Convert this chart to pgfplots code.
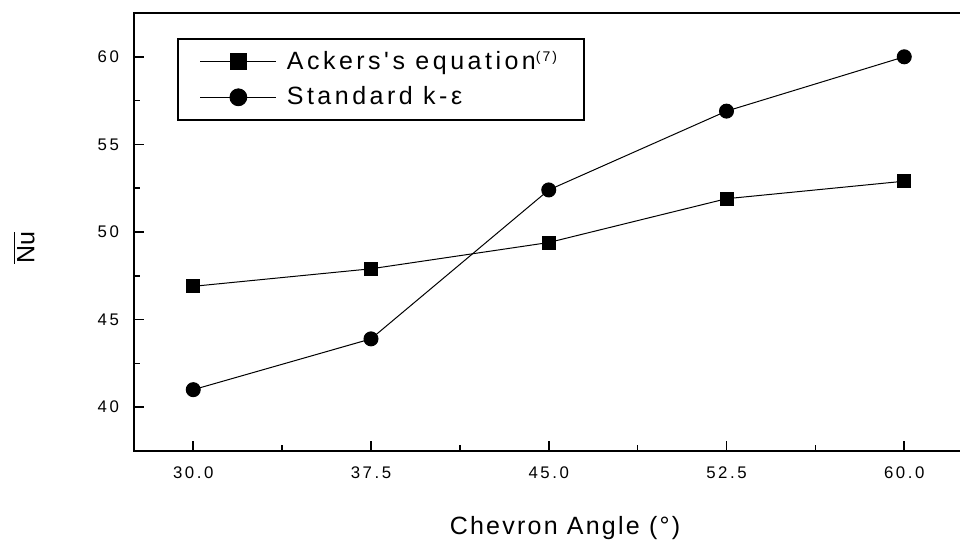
\documentclass[border=0pt]{standalone}
\usepackage{fontspec}
\setmainfont{Liberation Sans}
\newfontfamily\tickfont[LetterSpace=15]{Liberation Sans}
\newfontfamily\labfont[LetterSpace=9]{Liberation Sans}
\newfontfamily\legfont[LetterSpace=14]{Liberation Sans}
\usepackage{pgfplots}
\pgfplotsset{compat=1.18}

\pgfplotstableread{
x y
30.0 46.9
37.5 47.9
45.0 49.4
52.5 51.9
60.0 52.9
}\ackers
\pgfplotstableread{
x y
30.0 41.0
37.5 43.9
45.0 52.4
52.5 56.9
60.0 60.0
}\standard

\begin{document}
\begin{tikzpicture}
\begin{axis}[
  at={(67pt,48pt)}, anchor=south west,
  scale only axis, width=414.75pt, height=219pt,
  xmin=27.5, xmax=62.5, ymin=37.5, ymax=62.5,
  xtick={30,37.5,45,52.5,60}, ytick={40,45,50,55,60},
  minor x tick num=1, minor y tick num=1,
  tick pos=left, tick align=inside,
  major tick length=5pt, minor tick length=3pt,
  axis line style={line width=0.9pt},
  every tick/.style={line width=0.8pt, black},
  /pgf/number format/assume math mode=true,
  xticklabel style={font=\tickfont\fontsize{8.4}{10}\selectfont,
    /pgf/number format/.cd, fixed, fixed zerofill, precision=1},
  yticklabel style={font=\tickfont\fontsize{8.4}{10}\selectfont},
  xticklabel shift=4.5pt, yticklabel shift=4pt,
  legend image code/.code={\draw[mark repeat=2, mark phase=2, #1, line width=0.5pt,
     every mark/.append style={scale=1.2}]
     plot coordinates {(0pt,0pt) (19pt,0pt) (38pt,0pt)};},
  legend style={draw=black, line width=0.9pt, inner xsep=11pt, inner ysep=4pt,
     row sep=3pt, font=\legfont\fontsize{12.5}{14}\selectfont,
     /tikz/every odd column/.append style={column sep=3pt},
     at={(0.0518,0.943)}, anchor=north west, cells={anchor=west}},
]
\addplot[black, line width=0.5pt, mark=square*, mark size=3.25pt,
   mark options={fill=black, solid}] table[x=x,y=y] {\ackers};
\addlegendentry{Ackers's equation\textsuperscript{\fontsize{7}{8}\selectfont(7)}}
\addplot[black, line width=0.5pt, mark=*, mark size=3.5pt,
   mark options={fill=black, solid}] table[x=x,y=y] {\standard};
\addlegendentry{Standard k-ε}
\end{axis}
\node[anchor=base, font=\labfont\fontsize{12.5}{15}\selectfont] at (282.5pt,6pt) {Chevron Angle (°)};
\node[rotate=90, font=\fontsize{12.5}{15}\selectfont] at (12pt,149.5pt) {$\overline{\mbox{Nu}}$};
\pgfresetboundingbox
\path[use as bounding box] (0,0) rectangle (480pt,273.5pt);
\end{tikzpicture}
\end{document}
